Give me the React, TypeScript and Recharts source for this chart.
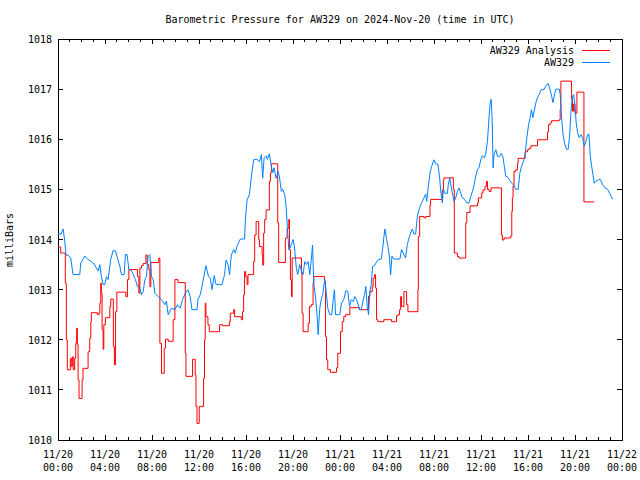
import { Legend, Line, LineChart, ReferenceArea, XAxis, YAxis } from "recharts";

const FONT = '"DejaVu Sans Mono", "Liberation Mono", monospace';

// plot box (gnuplot style frame)
const PLOT_LEFT = 58;
const PLOT_RIGHT = 622;
const PLOT_TOP = 39;
const PLOT_BOTTOM = 440;

const seriesNames = ["AW329 Analysis", "AW329"];
const seriesColors = ["#ff0000", "#0080ff"];

// hours since 2024-11-20 00:00 UTC
const analysisHours = [
	0.0, 0.23, 0.62, 0.71, 0.79, 1.05, 1.13, 1.22, 1.3, 1.42, 1.51, 1.59, 1.65, 1.71, 1.79, 2.05, 2.13, 2.56,
	2.7, 2.79, 2.84, 3.35, 3.47, 3.56, 3.64, 3.69, 3.75, 3.84, 3.9, 4.03, 4.41, 4.49, 4.71, 4.8, 4.89, 5.01,
	5.77, 5.91, 6.03, 6.76, 6.88, 6.97, 7.1, 7.25, 7.48, 7.59, 7.73, 7.82, 7.9, 8.58, 8.67, 8.81, 9.04, 9.15,
	9.38, 9.8, 9.95, 10.21, 10.83, 10.89, 11.45, 11.68, 11.74, 11.83, 12.02, 12.39, 12.47, 12.53, 12.59, 12.76,
	12.87, 13.75, 14.0, 14.58, 14.66, 14.95, 15.03, 15.6, 15.71, 15.8, 15.88, 15.97, 16.09, 16.17, 16.65, 16.74,
	16.86, 17.08, 17.14, 17.37, 17.42, 17.5, 17.59, 17.71, 17.99, 18.08, 18.16, 18.7, 18.78, 19.35, 19.5, 19.64,
	19.7, 19.78, 19.87, 19.93, 20.72, 20.77, 20.86, 21.29, 21.4, 21.55, 21.71, 21.77, 22.68, 22.77, 22.85, 22.96,
	23.19, 23.7, 23.81, 24.04, 24.19, 24.32, 24.47, 24.84, 25.66, 26.43, 26.54, 26.74, 26.82, 26.94, 27.03, 27.11,
	27.22, 27.73, 28.39, 28.81, 28.93, 29.07, 29.16, 29.24, 29.44, 29.67, 29.78, 30.63, 30.67, 30.78, 31.14, 31.29,
	31.66, 31.71, 32.71, 32.8, 32.85, 33.65, 33.73, 33.99, 34.13, 34.7, 34.79, 35.07, 35.7, 35.78, 36.06, 36.17,
	36.34, 36.46, 36.55, 36.69, 36.86, 37.74, 37.82, 37.96, 38.53, 38.62, 38.67, 38.73, 38.81, 38.96, 39.11, 39.16,
	39.76, 39.96, 40.1, 40.25, 40.81, 41.66, 41.75, 41.89, 42.01, 42.66, 42.74, 42.8, 43.71, 43.79, 43.88, 43.99,
	44.16, 44.76, 45.64,
];
const analysisPressure = [
	1013.85, 1013.73, 1013.13, 1012.0, 1011.4, 1011.63, 1011.47, 1011.66, 1011.4, 1011.63, 1011.93, 1012.23,
	1011.9, 1011.2, 1010.83, 1011.2, 1011.43, 1011.76, 1012.03, 1012.36, 1012.54, 1012.5, 1012.53, 1012.73,
	1013.13, 1012.93, 1012.2, 1011.81, 1012.3, 1012.44, 1012.66, 1012.81, 1011.86, 1011.5, 1012.56, 1012.95,
	1012.86, 1013.2, 1013.4, 1013.26, 1012.93, 1013.43, 1013.48, 1013.52, 1013.69, 1013.5, 1013.4, 1013.06,
	1013.54, 1013.63, 1011.93, 1011.33, 1011.83, 1012.01, 1011.97, 1012.4, 1013.2, 1013.14, 1011.73, 1011.27,
	1011.61, 1011.3, 1010.67, 1010.33, 1010.67, 1011.23, 1012.0, 1012.73, 1012.46, 1012.3, 1012.16, 1012.3,
	1012.28, 1012.36, 1012.53, 1012.6, 1012.46, 1012.4, 1012.56, 1012.9, 1013.36, 1013.26, 1013.1, 1013.3,
	1013.56, 1014.09, 1014.36, 1014.0, 1013.86, 1013.7, 1013.49, 1014.13, 1014.4, 1014.59, 1015.16, 1015.33,
	1015.51, 1014.33, 1013.54, 1014.03, 1014.22, 1014.4, 1013.8, 1013.2, 1012.86, 1013.63, 1013.33, 1012.53,
	1012.16, 1012.33, 1012.66, 1012.7, 1013.13, 1013.26, 1013.16, 1012.06, 1011.6, 1011.4, 1011.35, 1011.44,
	1011.73, 1012.16, 1012.36, 1012.46, 1012.5, 1012.64, 1012.6, 1012.87, 1012.96, 1013.06, 1013.23, 1013.3,
	1013.03, 1012.4, 1012.36, 1012.4, 1012.36, 1012.48, 1012.5, 1012.6, 1012.86, 1012.66, 1012.96, 1012.7,
	1012.56, 1013.0, 1014.06, 1014.46, 1014.43, 1014.46, 1014.69, 1014.8, 1014.99, 1015.19, 1015.23, 1015.0,
	1013.73, 1013.66, 1013.63, 1014.33, 1014.54, 1014.67, 1014.73, 1014.83, 1014.93, 1014.99, 1015.06, 1015.16,
	1015.0, 1014.96, 1015.03, 1014.09, 1013.99, 1014.03, 1014.07, 1014.56, 1014.83, 1015.06, 1015.36, 1015.39,
	1015.52, 1015.62, 1015.75, 1015.79, 1015.82, 1015.87, 1015.99, 1016.15, 1016.29, 1016.33, 1016.37, 1016.39,
	1016.59, 1017.16, 1016.8, 1016.56, 1016.7, 1016.52, 1016.94, 1014.75, 1014.75,
];

const stationHours = [
	0.0, 0.26, 0.43, 0.57, 0.68, 0.85, 1.08, 1.28, 1.85, 1.94, 2.28, 2.56, 2.84, 3.07, 3.27, 3.41, 3.56, 3.69,
	3.84, 3.98, 4.12, 4.26, 4.49, 4.69, 4.89, 5.06, 5.26, 5.4, 5.63, 5.74, 5.88, 6.03, 6.25, 6.59, 6.76, 6.97,
	7.1, 7.25, 7.39, 7.53, 7.67, 7.82, 7.95, 8.1, 8.24, 8.53, 8.81, 9.1, 9.23, 9.38, 9.66, 9.95, 10.17, 10.4,
	10.6, 10.83, 11.06, 11.25, 11.4, 11.83, 11.91, 12.11, 12.25, 12.47, 12.59, 12.81, 12.96, 13.1, 13.3, 13.45,
	13.96, 14.18, 14.3, 14.47, 14.6, 14.75, 14.95, 15.09, 15.24, 15.52, 15.88, 15.94, 16.09, 16.28, 16.37, 16.51,
	16.65, 16.94, 17.14, 17.31, 17.42, 17.54, 17.71, 17.82, 17.99, 18.16, 18.27, 18.39, 18.56, 18.73, 18.84,
	19.01, 19.12, 19.29, 19.41, 19.52, 19.64, 19.78, 20.01, 20.12, 20.29, 20.4, 20.57, 20.72, 20.86, 21.0, 21.14,
	21.29, 21.43, 21.57, 21.66, 21.77, 21.91, 22.06, 22.14, 22.28, 22.4, 22.53, 22.7, 22.85, 22.96, 23.13, 23.3,
	23.42, 23.53, 23.62, 23.98, 24.13, 24.32, 24.5, 24.67, 24.81, 24.96, 25.13, 25.26, 25.41, 25.55, 25.66, 25.81,
	25.98, 26.09, 26.2, 26.32, 26.43, 26.54, 26.66, 26.77, 26.94, 27.11, 27.26, 27.51, 27.62, 27.74, 27.82, 27.97,
	28.08, 28.2, 28.31, 28.42, 28.59, 29.1, 29.24, 29.44, 29.58, 29.73, 29.87, 30.01, 30.16, 30.29, 30.44, 30.58,
	30.72, 30.86, 31.01, 31.14, 31.29, 31.38, 31.52, 31.66, 31.8, 32.0, 32.14, 32.34, 32.48, 32.59, 32.71, 32.8,
	32.94, 33.14, 33.22, 33.34, 33.45, 33.57, 33.7, 33.85, 33.99, 34.13, 34.27, 34.42, 34.61, 34.79, 34.98, 35.13,
	35.27, 35.41, 35.55, 35.7, 35.83, 35.98, 36.12, 36.3, 36.41, 36.55, 36.69, 36.77, 36.86, 36.94, 37.03, 37.11,
	37.26, 37.4, 37.54, 37.74, 37.88, 38.0, 38.11, 38.26, 38.39, 38.62, 38.77, 38.96, 39.16, 39.31, 39.45, 39.62,
	39.76, 39.9, 40.05, 40.18, 40.3, 40.41, 40.52, 40.67, 40.81, 40.95, 41.09, 41.38, 41.52, 41.72, 41.89, 42.01,
	42.12, 42.23, 42.37, 42.66, 42.74, 42.8, 42.89, 43.0, 43.14, 43.29, 43.42, 43.54, 43.65, 43.76, 43.88, 43.99,
	44.1, 44.22, 44.36, 44.51, 44.65, 44.79, 44.93, 45.08, 45.19, 45.3, 45.42, 45.53, 45.64, 45.78, 45.98, 46.15,
	46.36, 46.55, 46.78, 46.95, 47.07, 47.21,
];
const stationPressure = [
	1014.11, 1014.11, 1014.21, 1013.99, 1013.69, 1013.69, 1013.63, 1013.3, 1013.3, 1013.53, 1013.67, 1013.6,
	1013.56, 1013.51, 1013.43, 1013.37, 1013.5, 1013.26, 1013.1, 1013.1, 1013.26, 1013.2, 1013.6, 1013.78,
	1013.77, 1013.63, 1013.47, 1013.3, 1013.3, 1013.7, 1013.7, 1013.4, 1013.38, 1013.2, 1013.06, 1013.03,
	1012.9, 1012.96, 1013.2, 1013.26, 1013.66, 1013.7, 1013.26, 1013.2, 1012.93, 1012.86, 1012.8, 1012.7,
	1012.77, 1012.5, 1012.63, 1012.6, 1012.7, 1012.63, 1012.8, 1012.93, 1013.0, 1012.86, 1012.6, 1012.6,
	1012.8, 1012.9, 1013.06, 1013.33, 1013.48, 1013.26, 1013.23, 1013.0, 1013.28, 1013.1, 1013.1, 1013.3,
	1013.59, 1013.5, 1013.3, 1013.69, 1013.8, 1013.73, 1013.87, 1014.01, 1014.01, 1014.36, 1014.79, 1014.89,
	1015.06, 1015.36, 1015.59, 1015.6, 1015.55, 1015.69, 1015.22, 1015.63, 1015.67, 1015.6, 1015.71, 1015.46,
	1015.33, 1015.43, 1015.22, 1015.36, 1015.26, 1014.96, 1015.0, 1014.9, 1014.66, 1014.26, 1013.8, 1013.85,
	1014.0, 1013.86, 1013.42, 1013.3, 1013.5, 1013.37, 1013.3, 1013.56, 1013.5, 1013.56, 1013.3, 1013.63,
	1013.89, 1013.13, 1012.86, 1012.46, 1012.1, 1012.63, 1012.8, 1012.9, 1013.2, 1012.9, 1012.63, 1012.5,
	1012.5, 1012.8, 1013.0, 1012.5, 1012.5, 1012.73, 1012.8, 1012.98, 1012.96, 1012.66, 1012.8, 1012.76,
	1012.86, 1012.8, 1012.7, 1012.6, 1012.6, 1012.8, 1012.9, 1013.06, 1012.66, 1012.5, 1012.96, 1013.1,
	1013.46, 1013.48, 1013.55, 1013.6, 1013.61, 1013.8, 1014.06, 1014.21, 1014.0, 1013.86, 1013.67, 1013.3,
	1013.67, 1013.61, 1013.61, 1013.8, 1013.7, 1013.63, 1013.9, 1014.03, 1014.13, 1014.21, 1014.11, 1014.11,
	1014.46, 1014.59, 1014.69, 1014.76, 1014.83, 1014.9, 1014.76, 1015.06, 1015.33, 1015.46, 1015.59, 1015.51,
	1015.5, 1015.23, 1014.93, 1014.73, 1015.0, 1014.92, 1014.92, 1015.1, 1015.23, 1015.06, 1014.93, 1014.76,
	1014.83, 1014.96, 1015.03, 1014.92, 1014.83, 1014.8, 1014.73, 1014.73, 1014.86, 1014.96, 1015.09, 1015.26,
	1015.4, 1015.43, 1015.59, 1015.67, 1015.63, 1015.73, 1015.96, 1016.46, 1016.7, 1016.8, 1016.46, 1015.43,
	1015.7, 1015.79, 1015.66, 1015.65, 1015.72, 1015.63, 1015.43, 1015.26, 1015.25, 1015.2, 1015.12, 1015.09,
	1015.0, 1015.0, 1015.33, 1015.46, 1015.56, 1015.72, 1016.03, 1016.29, 1016.43, 1016.59, 1016.43, 1016.56,
	1016.73, 1016.83, 1016.89, 1016.98, 1017.0, 1017.07, 1017.11, 1016.98, 1016.86, 1016.73, 1016.86, 1017.0,
	1017.0, 1016.9, 1016.66, 1016.33, 1016.06, 1015.89, 1015.8, 1015.8, 1016.06, 1016.52, 1016.82, 1016.89,
	1016.7, 1016.33, 1016.13, 1016.03, 1016.09, 1016.03, 1015.86, 1015.96, 1016.09, 1016.1, 1015.66, 1015.46,
	1015.29, 1015.12, 1015.16, 1015.19, 1015.2, 1015.09, 1015.03, 1015.0, 1014.92, 1014.86, 1014.8,
];

// axis ticks
const majorHours = [0, 4, 8, 12, 16, 20, 24, 28, 32, 36, 40, 44, 48];
const tickDateLabels = ["11/20", "11/20", "11/20", "11/20", "11/20", "11/20", "11/21", "11/21", "11/21", "11/21", "11/21", "11/21", "11/22"];
const tickTimeLabels = ["00:00", "04:00", "08:00", "12:00", "16:00", "20:00", "00:00", "04:00", "08:00", "12:00", "16:00", "20:00", "00:00"];
const pressureTicks = [1010, 1011, 1012, 1013, 1014, 1015, 1016, 1017, 1018];
const allHourTicks = Array.from({ length: 49 }, (_, i) => i);

const analysisData = analysisHours.map((h, i) => ({ h, v: analysisPressure[i] }));
const stationData = stationHours.map((h, i) => ({ h, v: stationPressure[i] }));

const XTick = (props: any) => {
	const { x, payload } = props;
	const idx = majorHours.indexOf(payload.value);
	const len = idx >= 0 ? 5 : 3;
	return (
		<g>
			<line x1={x} y1={PLOT_BOTTOM} x2={x} y2={PLOT_BOTTOM - len} stroke="#000" shapeRendering="crispEdges" />
			<line x1={x} y1={PLOT_TOP} x2={x} y2={PLOT_TOP + len} stroke="#000" shapeRendering="crispEdges" />
			{idx >= 0 && (
				<text x={x} y={PLOT_BOTTOM + 18} textAnchor="middle" fontFamily={FONT} fontSize={10} fill="#000">
					<tspan x={x}>{tickDateLabels[idx]}</tspan>
					<tspan x={x} dy={13}>{tickTimeLabels[idx]}</tspan>
				</text>
			)}
		</g>
	);
};

const YTick = (props: any) => {
	const { y, payload } = props;
	return (
		<g>
			<line x1={PLOT_LEFT} y1={y} x2={PLOT_LEFT + 5} y2={y} stroke="#000" shapeRendering="crispEdges" />
			<line x1={PLOT_RIGHT} y1={y} x2={PLOT_RIGHT - 5} y2={y} stroke="#000" shapeRendering="crispEdges" />
			<text x={PLOT_LEFT - 6} y={y + 4} textAnchor="end" fontFamily={FONT} fontSize={10} fill="#000">
				{payload.value}
			</text>
		</g>
	);
};

const renderLegend = () => (
	<div style={{ fontFamily: FONT, fontSize: 10, color: "#000" }}>
		{seriesNames.map((name, i) => (
			<div key={name} style={{ display: "flex", alignItems: "center", justifyContent: "flex-end", height: 12 }}>
				<span style={{ whiteSpace: "pre" }}>{name}</span>
				<span style={{ display: "inline-block", width: 28, marginLeft: 8, borderTop: `1px solid ${seriesColors[i]}` }} />
			</div>
		))}
	</div>
);

const App = () => {
	return (
		<div style={{ position: "absolute", left: 0, top: 0, width: 640, height: 480, background: "#fff" }}>
			<div
				style={{
					position: "absolute",
					left: 0,
					top: 14,
					width: PLOT_LEFT + PLOT_RIGHT,
					textAlign: "center",
					fontFamily: FONT,
					fontSize: 10,
					lineHeight: "12px",
					whiteSpace: "pre",
				}}
			>
				Barometric Pressure for AW329 on 2024-Nov-20 (time in UTC)
			</div>
			<div
				style={{
					position: "absolute",
					left: -20,
					top: 234,
					width: 60,
					height: 12,
					lineHeight: "12px",
					textAlign: "center",
					fontFamily: FONT,
					fontSize: 10,
					transform: "rotate(-90deg)",
				}}
			>
				milliBars
			</div>
			<LineChart
				width={640}
				height={480}
				margin={{ top: PLOT_TOP, right: 640 - PLOT_RIGHT, bottom: 480 - PLOT_BOTTOM - 1, left: PLOT_LEFT - 1 }}
			>
				<XAxis
					dataKey="h"
					type="number"
					domain={[0, 48]}
					ticks={allHourTicks}
					interval={0}
					height={1}
					tickSize={0}
					tickMargin={0}
					tickLine={false}
					axisLine={false}
					tick={<XTick />}
					allowDataOverflow
				/>
				<YAxis
					type="number"
					domain={[1010, 1018]}
					ticks={pressureTicks}
					interval={0}
					width={1}
					tickSize={0}
					tickMargin={0}
					tickLine={false}
					axisLine={false}
					tick={<YTick />}
					allowDataOverflow
				/>
				<ReferenceArea
					x1={0}
					x2={48}
					y1={1010}
					y2={1018}
					fill="none"
					fillOpacity={0}
					stroke="#000"
					strokeWidth={1}
					shapeRendering="crispEdges"
					ifOverflow="visible"
				/>
				<Legend
					layout="vertical"
					align="center"
					verticalAlign="middle"
					content={renderLegend}
					wrapperStyle={{ top: 44, right: 640 - 610, left: "auto" }}
				/>
				<Line
					data={analysisData}
					dataKey="v"
					name={seriesNames[0]}
					type="stepAfter"
					stroke={seriesColors[0]}
					strokeWidth={1}
					dot={false}
					activeDot={false}
					isAnimationActive={false}
				/>
				<Line
					data={stationData}
					dataKey="v"
					name={seriesNames[1]}
					type="linear"
					stroke={seriesColors[1]}
					strokeWidth={1}
					dot={false}
					activeDot={false}
					isAnimationActive={false}
				/>
			</LineChart>
		</div>
	);
};

export default App;
